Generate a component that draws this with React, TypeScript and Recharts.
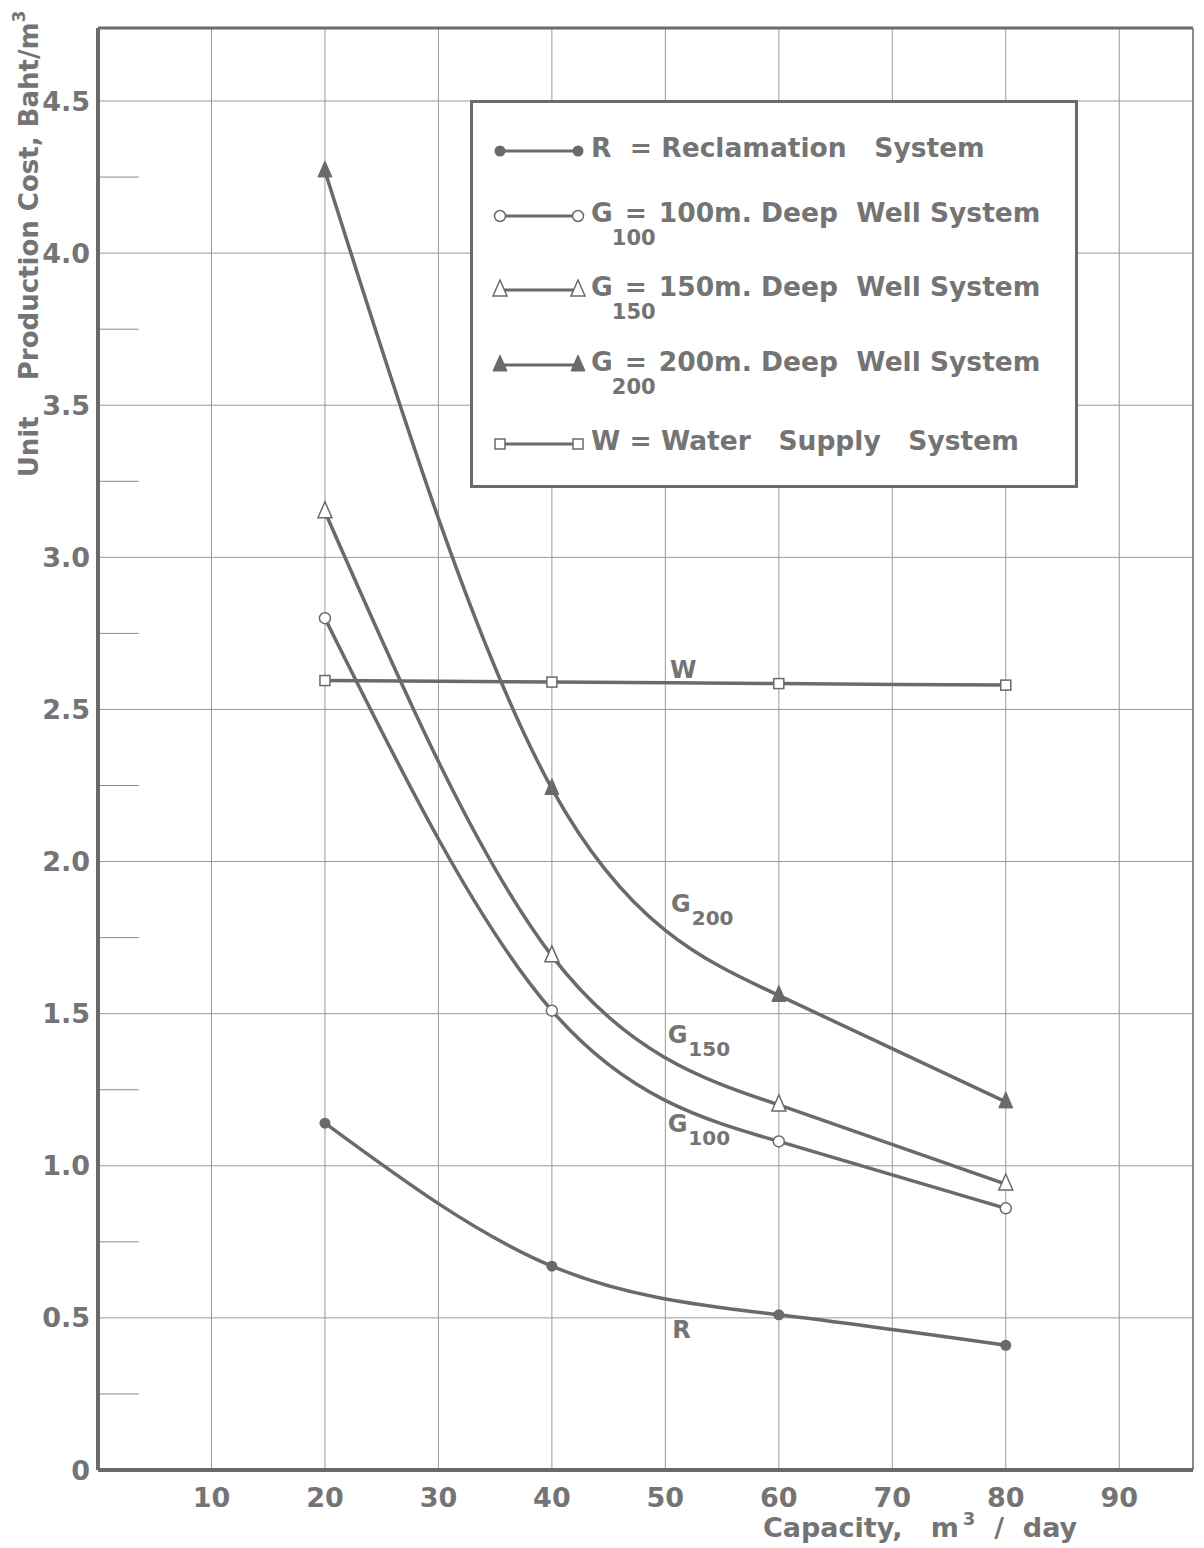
import React from "react";
import {
  LineChart,
  Line,
  XAxis,
  YAxis,
  CartesianGrid,
  ReferenceLine,
  ReferenceDot,
} from "recharts";

// capacity, m3/day
const capacity = [20, 40, 60, 80];
// unit production cost, Baht/m3
const rCost = [1.14, 0.67, 0.51, 0.41];
const g100Cost = [2.8, 1.51, 1.08, 0.86];
const g150Cost = [3.15, 1.69, 1.2, 0.94];
const g200Cost = [4.27, 2.24, 1.56, 1.21];
const wCost = [2.595, 2.59, 2.585, 2.58];

const xTicks = [10, 20, 30, 40, 50, 60, 70, 80, 90];
const yTicks = [0, 0.5, 1, 1.5, 2, 2.5, 3, 3.5, 4, 4.5];
const yTickLabels = ["0", "0.5", "1.0", "1.5", "2.0", "2.5", "3.0", "3.5", "4.0", "4.5"];
const minorTicks = [0.25, 0.75, 1.25, 1.75, 2.25, 2.75, 3.25, 3.75, 4.25];

// curve tags: [x, y, main, sub]
const curveTags: [number, number, string, string][] = [
  [50.4, 2.605, "W", ""],
  [50.5, 1.835, "G", "200"],
  [50.2, 1.405, "G", "150"],
  [50.2, 1.11, "G", "100"],
  [50.6, 0.434, "R", ""],
];

const data = capacity.map((c, i) => ({
  c,
  r: rCost[i],
  g100: g100Cost[i],
  g150: g150Cost[i],
  g200: g200Cost[i],
  w: wCost[i],
}));

const INK = "#6a6a6a";
const TEXT = "#747474";
const FONT = "'DejaVu Sans', sans-serif";

type Kind = "dot" | "circle" | "tri" | "triFill" | "square";

function mark(kind: Kind, cx: number, cy: number, key?: string | number) {
  if (kind === "dot") return <circle key={key} cx={cx} cy={cy} r={5.5} fill={INK} />;
  if (kind === "circle")
    return <circle key={key} cx={cx} cy={cy} r={5.5} fill="#fff" stroke={INK} strokeWidth={1.5} />;
  if (kind === "square")
    return (
      <rect key={key} x={cx - 5} y={cy - 5} width={10} height={10} fill="#fff" stroke={INK} strokeWidth={1.5} />
    );
  const pts = `${cx},${cy - 10} ${cx - 7},${cy + 6} ${cx + 7},${cy + 6}`;
  if (kind === "tri") return <polygon key={key} points={pts} fill="#fff" stroke={INK} strokeWidth={1.5} />;
  return <polygon key={key} points={pts} fill={INK} stroke={INK} strokeWidth={1} />;
}

const dotFor = (kind: Kind) => (p: any) => mark(kind, p.cx, p.cy, p.index);

function LegendMark({ kind }: { kind: Kind }) {
  return (
    <svg width={96} height={26} style={{ position: "absolute", left: 18, top: 0 }}>
      <line x1={9} y1={14} x2={87} y2={14} stroke={INK} strokeWidth={3} />
      {mark(kind, 9, 14)}
      {mark(kind, 87, 14)}
    </svg>
  );
}

function SubEq({ sub }: { sub: string }) {
  return (
    <span style={{ display: "inline-block", position: "relative", width: 46, textAlign: "center" }}>
      =
      <span style={{ position: "absolute", left: -2, top: 25, width: "100%", fontSize: 21, textAlign: "center" }}>
        {sub}
      </span>
    </span>
  );
}

const legendRows: { kind: Kind; top: number; content: React.ReactNode }[] = [
  { kind: "dot", top: 34, content: <span>R  = Reclamation   System</span> },
  { kind: "circle", top: 99, content: <span>G<SubEq sub="100" />100m. Deep  Well System</span> },
  { kind: "tri", top: 173, content: <span>G<SubEq sub="150" />150m. Deep  Well System</span> },
  { kind: "triFill", top: 248, content: <span>G<SubEq sub="200" />200m. Deep  Well System</span> },
  { kind: "square", top: 327, content: <span>W = Water   Supply   System</span> },
];

function CurveTag(props: any) {
  const { cx, cy, main, sub } = props;
  return (
    <text x={cx} y={cy} fill={TEXT} fontFamily={FONT} fontWeight="bold" fontSize={24}>
      {main}
      {sub ? (
        <tspan dx={1} dy={13} fontSize={20}>
          {sub}
        </tspan>
      ) : null}
    </text>
  );
}

export default function App() {
  return (
    <div style={{ position: "absolute", left: 0, top: 0, width: 1204, height: 1548, background: "#fff" }}>
      <LineChart
        width={1204}
        height={1548}
        data={data}
        margin={{ top: 28, right: 11, bottom: 28, left: 38 }}
      >
        <CartesianGrid stroke="#9a9a9a" strokeWidth={1} />
        <XAxis
          dataKey="c"
          type="number"
          domain={[0, 96.5]}
          ticks={xTicks}
          height={50}
          axisLine={{ stroke: INK, strokeWidth: 4 }}
          tickLine={false}
          tickMargin={12}
          tick={{ fill: TEXT, fontSize: 27, fontFamily: FONT, fontWeight: "bold" }}
          label={{
            content: () => (
              <text
                x={763}
                y={1537}
                fill={TEXT}
                fontFamily={FONT}
                fontWeight="bold"
                fontSize={27}
                style={{ whiteSpace: "pre" }}
              >
                Capacity,   m
                <tspan dx={4} dy={-12} fontSize={18}>
                  3
                </tspan>
                <tspan dy={12}>  /  day</tspan>
              </text>
            ),
          }}
        />
        <YAxis
          type="number"
          domain={[0, 4.74]}
          ticks={yTicks}
          width={60}
          axisLine={{ stroke: INK, strokeWidth: 4 }}
          tickLine={false}
          tickMargin={2}
          tickFormatter={(v: number) => yTickLabels[yTicks.indexOf(v)] ?? String(v)}
          tick={{ fill: TEXT, fontSize: 27, fontFamily: FONT, fontWeight: "bold" }}
          label={{
            content: () => (
              <text
                x={29}
                y={244}
                transform="rotate(-90 29 244)"
                textAnchor="middle"
                dominantBaseline="central"
                fill={TEXT}
                fontFamily={FONT}
                fontWeight="bold"
                fontSize={26}
                style={{ whiteSpace: "pre" }}
              >
                Unit    Production Cost, Baht/m
                <tspan dy={-10} fontSize={17}>
                  3
                </tspan>
              </text>
            ),
          }}
        />
        <ReferenceLine y={4.74} stroke={INK} strokeWidth={3} />
        <ReferenceLine x={96.5} stroke="#8a8a8a" strokeWidth={2} />
        {minorTicks.map((t) => (
          <ReferenceLine
            key={t}
            segment={[
              { x: 0, y: t },
              { x: 3.6, y: t },
            ]}
            stroke="#8a8a8a"
            strokeWidth={1}
          />
        ))}
        <Line type="natural" dataKey="g200" stroke={INK} strokeWidth={3.5} dot={dotFor("triFill")} isAnimationActive={false} />
        <Line type="natural" dataKey="g150" stroke={INK} strokeWidth={3.5} dot={dotFor("tri")} isAnimationActive={false} />
        <Line type="natural" dataKey="g100" stroke={INK} strokeWidth={3.5} dot={dotFor("circle")} isAnimationActive={false} />
        <Line type="natural" dataKey="w" stroke={INK} strokeWidth={3.5} dot={dotFor("square")} isAnimationActive={false} />
        <Line type="natural" dataKey="r" stroke={INK} strokeWidth={3.5} dot={dotFor("dot")} isAnimationActive={false} />
        {curveTags.map(([x, y, main, sub]) => (
          <ReferenceDot
            key={main + sub}
            x={x}
            y={y}
            r={0}
            shape={(p: any) => <CurveTag cx={p.cx} cy={p.cy} main={main} sub={sub} />}
          />
        ))}
      </LineChart>
      <div
        style={{
          position: "absolute",
          left: 470,
          top: 100,
          width: 602,
          height: 382,
          border: `3px solid ${INK}`,
          background: "#fff",
          fontFamily: FONT,
          fontWeight: "bold",
          fontSize: 26.5,
          color: TEXT,
        }}
      >
        {legendRows.map((row, i) => (
          <div key={i} style={{ position: "absolute", left: 0, top: row.top, width: "100%", height: 30 }}>
            <LegendMark kind={row.kind} />
            <div style={{ position: "absolute", left: 118, top: -4, whiteSpace: "pre", lineHeight: "30px" }}>
              {row.content}
            </div>
          </div>
        ))}
      </div>
    </div>
  );
}
